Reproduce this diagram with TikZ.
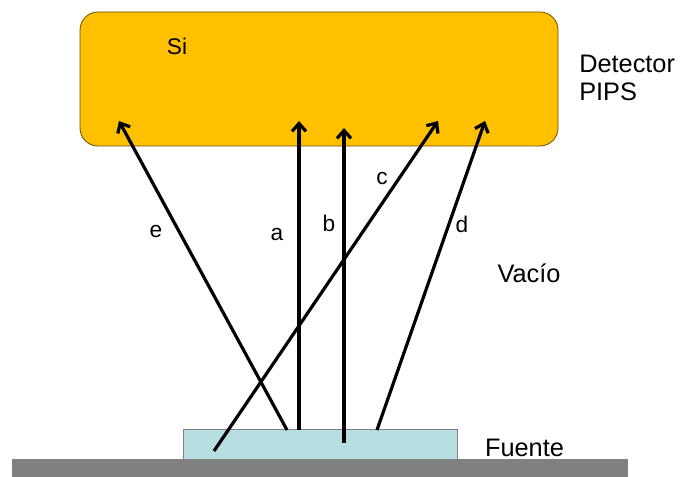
\documentclass[tikz,border=0pt]{standalone}
\usepackage{fontspec}
\setmainfont{Liberation Sans}
\usetikzlibrary{arrows.meta}
\definecolor{detcol}{HTML}{FFC000}
\definecolor{srccol}{HTML}{B7DEE0}
\definecolor{gndcol}{HTML}{808080}
\tikzset{
  ray/.style={line width=2.4pt, -{Straight Barb[length=6pt,width=10.5pt,line width=2.4pt]}},
  lbl/.style={font=\fontsize{17pt}{20pt}\selectfont, inner sep=0pt},
  big/.style={font=\fontsize{19pt}{24pt}\selectfont, inner sep=0pt, align=left}
}
\begin{document}
\begin{tikzpicture}[x=0.75pt,y=-0.75pt]
\useasboundingbox (0,0) rectangle (680,477);
% ground
\fill[gndcol] (12,459) rectangle (628,477);
% source
\draw[draw=gray, fill=srccol, line width=0.6pt] (183,429) rectangle (457,459);
% detector
\draw[draw=black!60!detcol, fill=detcol, line width=0.6pt, rounded corners=13.5pt] (80,12) rectangle (558,146);
\node[lbl] (si) at (177,46) {Si};
\node[big, anchor=west] (det) at (579,78) {Detector\\[-3pt]PIPS};
\node[big] (vac) at (529,273) {Vacío};
\node[big] (fue) at (524.5,448) {Fuente};
% ray endpoints
\coordinate (e0) at (287,430); \coordinate (e1) at (119,121);
\coordinate (a0) at (299,430); \coordinate (a1) at (299,121);
\coordinate (b0) at (344,443); \coordinate (b1) at (344,128);
\coordinate (c0) at (214,451); \coordinate (c1) at (438,121);
\coordinate (d0) at (377,430); \coordinate (d1) at (485,121);
\draw[ray] (e0) -- (e1);
\draw[ray] (a0) -- (a1);
\draw[ray] (b0) -- (b1);
\draw[ray] (c0) -- (c1);
\draw[ray] (d0) -- (d1);
\node[lbl] (le) at (156,232) {e};
\node[lbl] (la) at (277,235) {a};
\node[lbl] (lb) at (329,223) {b};
\node[lbl] (lc) at (382,179) {c};
\node[lbl] (ld) at (462,224) {d};
\end{tikzpicture}
\end{document}
